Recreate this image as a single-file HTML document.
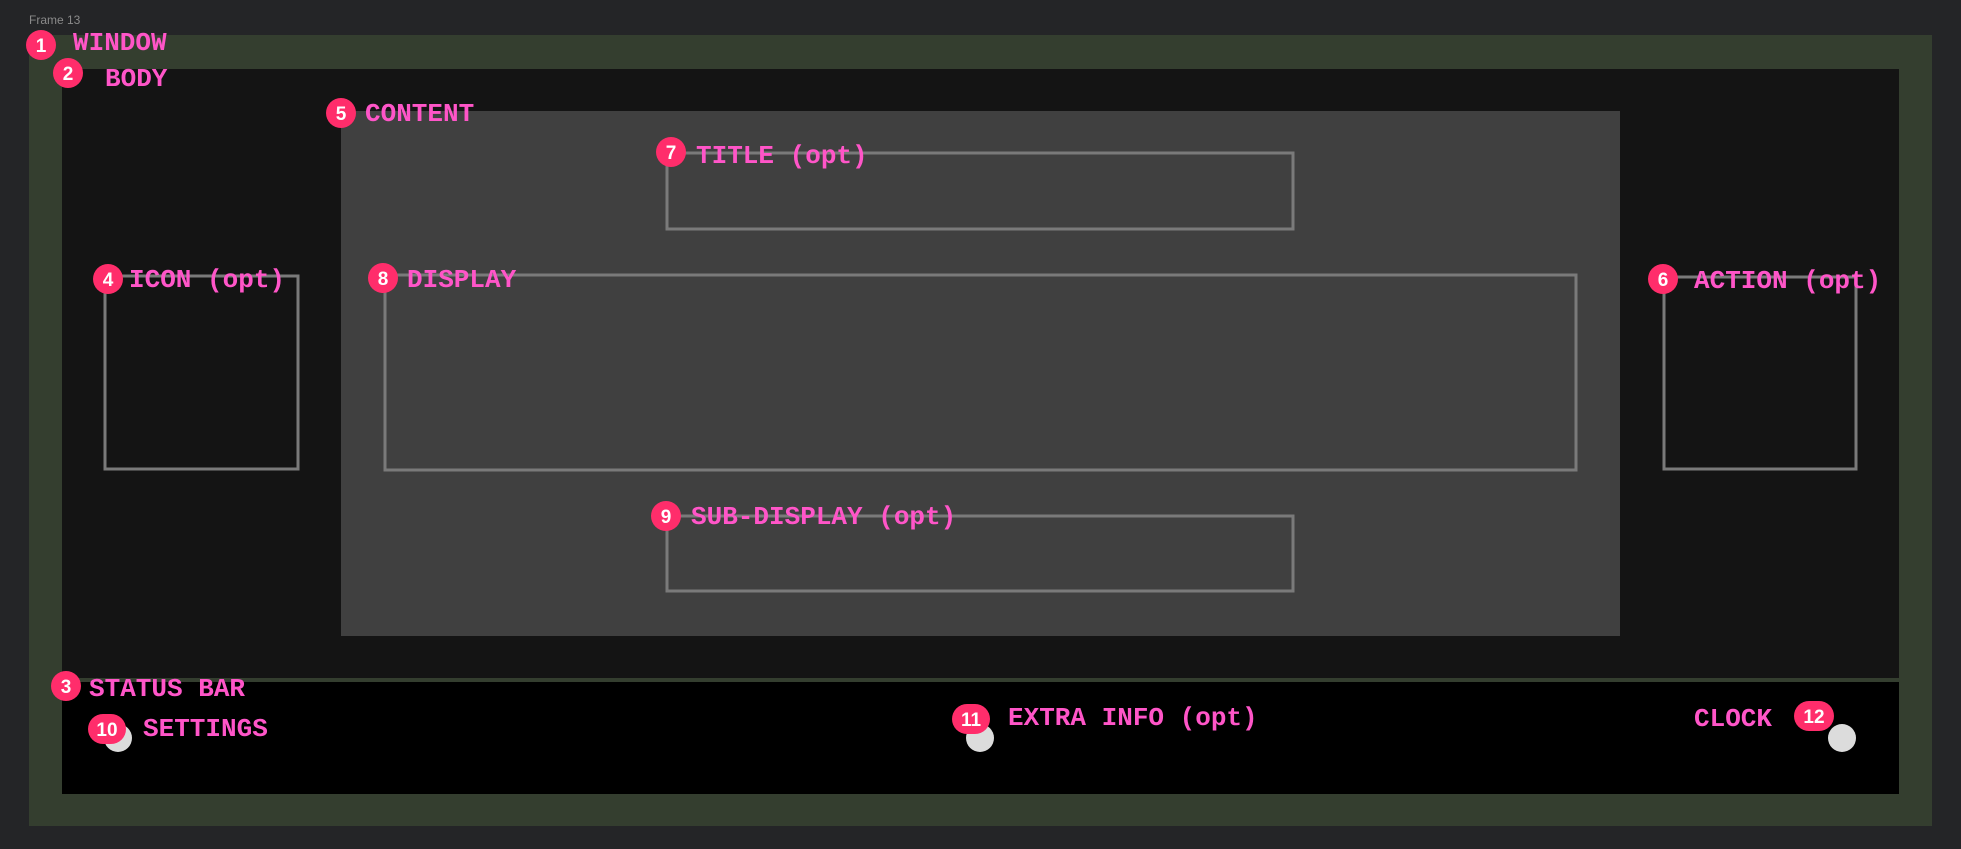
<!DOCTYPE html>
<html><head><meta charset="utf-8"><style>html,body{margin:0;padding:0;background:#242527;}svg{display:block}</style></head>
<body>
<svg width="1961" height="849" viewBox="0 0 1961 849" xmlns="http://www.w3.org/2000/svg">
<rect width="1961" height="849" fill="#242527"/>
<text x="29" y="24" font-family="Liberation Sans, sans-serif" font-size="12" fill="#8a8a8a">Frame 13</text>
<rect x="29" y="35" width="1903" height="791" fill="#343e2f"/>
<rect x="62" y="69" width="1837" height="609" fill="#141414"/>
<rect x="62" y="682" width="1837" height="112" fill="#000"/>
<rect x="341" y="111" width="1279" height="525" fill="#404040"/>
<g fill="none" stroke="#7a7a7a" stroke-width="3">
<rect x="105" y="276" width="193" height="193"/>
<rect x="1664" y="277" width="192" height="192"/>
<rect x="385" y="275" width="1191" height="195"/>
<rect x="667" y="153" width="626" height="76"/>
<rect x="667" y="516" width="626" height="75"/>
</g>
<g fill="#dcdcdc">
<circle cx="118" cy="738" r="14"/>
<circle cx="980" cy="738" r="14"/>
<circle cx="1842" cy="738" r="14"/>
</g>
<g font-family="Liberation Mono, monospace" font-size="26" font-weight="bold" fill="#ff55c8">
<text x="73" y="50">WINDOW</text>
<text x="105" y="86">BODY</text>
<text x="365" y="121">CONTENT</text>
<text x="129" y="287">ICON (opt)</text>
<text x="407" y="287">DISPLAY</text>
<text x="696" y="163">TITLE (opt)</text>
<text x="691" y="524">SUB-DISPLAY (opt)</text>
<text x="1694" y="288">ACTION (opt)</text>
<text x="89" y="696">STATUS BAR</text>
<text x="143" y="736">SETTINGS</text>
<text x="1008" y="725">EXTRA INFO (opt)</text>
<text x="1694" y="726">CLOCK</text>
</g>
<g fill="#ff2d6b">
<circle cx="41" cy="45" r="15"/>
<circle cx="68" cy="73" r="15"/>
<circle cx="341" cy="113" r="15"/>
<circle cx="671" cy="152" r="15"/>
<circle cx="108" cy="279" r="15"/>
<circle cx="383" cy="278" r="15"/>
<circle cx="1663" cy="279" r="15"/>
<circle cx="666" cy="516" r="15"/>
<circle cx="66" cy="686" r="15"/>
<rect x="88" y="714" width="38" height="30" rx="15"/>
<rect x="952" y="704" width="38" height="30" rx="15"/>
<rect x="1794" y="701" width="40" height="30" rx="15"/>
</g>
<g font-family="Liberation Sans, sans-serif" font-size="19" font-weight="bold" fill="#fff" text-anchor="middle">
<text x="41" y="52">1</text>
<text x="68" y="80">2</text>
<text x="341" y="120">5</text>
<text x="671" y="159">7</text>
<text x="108" y="286">4</text>
<text x="383" y="285">8</text>
<text x="1663" y="286">6</text>
<text x="666" y="523">9</text>
<text x="66" y="693">3</text>
<text x="107" y="736">10</text>
<text x="971" y="726">11</text>
<text x="1814" y="723">12</text>
</g>
</svg>
</body></html>
